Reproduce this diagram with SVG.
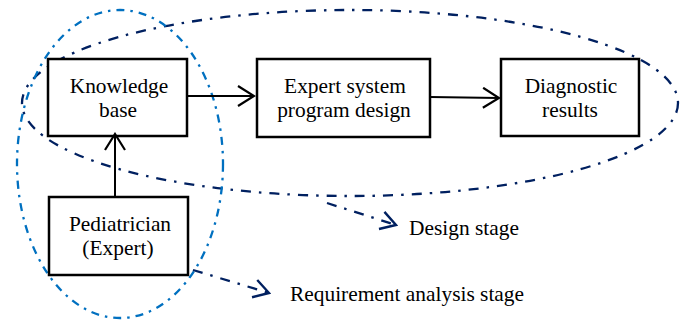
<svg xmlns="http://www.w3.org/2000/svg" width="686" height="324" viewBox="0 0 686 324">
<style>
.box{fill:#fff;stroke:#000;stroke-width:2.5}
text{font-family:"Liberation Serif","Times New Roman",serif;font-size:21.4px;fill:#000}
.t{text-anchor:middle}
.conn{stroke:#000;stroke-width:2;fill:none}
.navy{stroke:#002060;stroke-width:2.3;fill:none;stroke-dasharray:10 8 2.5 8}
.blue{stroke:#0070C0;stroke-width:2.3;fill:none;stroke-dasharray:8 6 2.5 6}
</style>
<defs>
<marker id="ah" viewBox="-17 -11 19 22" refX="0" refY="0" markerWidth="19" markerHeight="22" markerUnits="userSpaceOnUse" orient="auto">
<path d="M-16,-10 L0,0 L-16,10" fill="none" stroke="#000" stroke-width="2.2"/>
</marker>
<marker id="ahn" viewBox="-17 -11 19 22" refX="0" refY="0" markerWidth="19" markerHeight="22" markerUnits="userSpaceOnUse" orient="auto">
<path d="M-15,-9 L0,0 L-15,9" fill="none" stroke="#002060" stroke-width="2.4"/>
</marker>
</defs>
<g id="stages">
<ellipse class="navy" cx="350" cy="103" rx="328" ry="93"/>
<ellipse class="blue" cx="120" cy="164" rx="103" ry="154"/>
</g>
<g id="kb"><rect class="box" x="48" y="59" width="139" height="77"/><text class="t" x="119" y="93">Knowledge</text><text class="t" x="118" y="117">base</text></g>
<g id="es"><rect class="box" x="257" y="59" width="173" height="78"/><text class="t" x="345" y="93">Expert system</text><text class="t" x="344" y="117">program design</text></g>
<g id="dr"><rect class="box" x="501" y="59" width="138" height="77"/><text class="t" x="571" y="93">Diagnostic</text><text class="t" x="570" y="117">results</text></g>
<g id="ped"><rect class="box" x="49" y="197" width="139" height="78"/><text class="t" x="120" y="231">Pediatrician</text><text class="t" x="118" y="255">(Expert)</text></g>
<g id="connectors">
<line class="conn" x1="187" y1="96" x2="254" y2="96" marker-end="url(#ah)"/>
<line class="conn" x1="430" y1="97" x2="499" y2="98" marker-end="url(#ah)"/>
<line class="conn" x1="115" y1="197" x2="115" y2="134" marker-end="url(#ah)"/>
<line class="navy" x1="327" y1="203" x2="396" y2="225" marker-end="url(#ahn)"/>
<line class="navy" x1="193" y1="270" x2="269" y2="293" marker-end="url(#ahn)"/>
</g>
<g id="labels">
<text x="409" y="235">Design stage</text>
<text x="290" y="301">Requirement analysis stage</text>
</g>
</svg>
